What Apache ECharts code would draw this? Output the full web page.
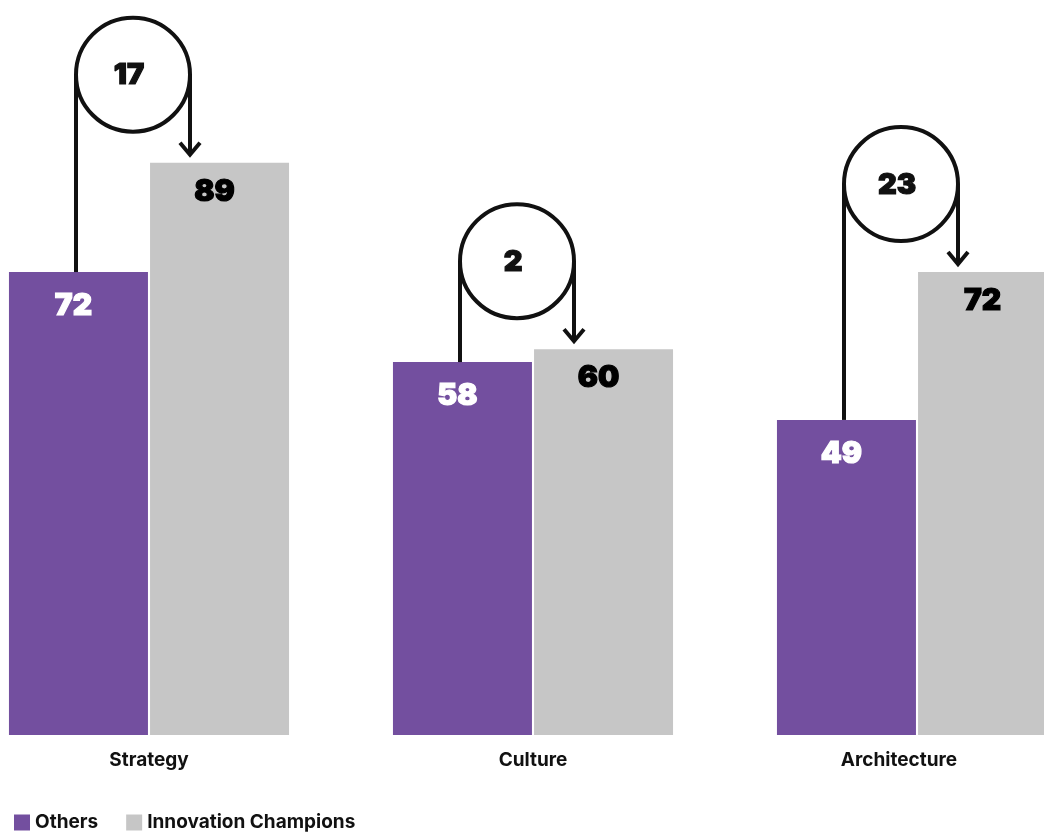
<!DOCTYPE html>
<html>
<head>
<meta charset="utf-8">
<script src="https://cdn.jsdelivr.net/npm/echarts@6/dist/echarts.min.js"></script>
<style>
  html, body { margin: 0; padding: 0; background: #fff; overflow: hidden; }
  body { width: 1044px; height: 832px; position: relative; }
  #chart { position: absolute; left: -43px; top: 0; width: 1152px; height: 832px; }
</style>
</head>
<body>
<div id="chart"></div>
<script>
var categories = ['Strategy', 'Culture', 'Architecture'];
var othersValues = [72, 58, 49];
var championValues = [89, 60, 72];
var gapValues = [17, 2, 23];

var numFont = 'Inter';
var ink = '#111111';

// circle with the gap number, line up from "Others", arrow down to "Champions"
var renderGap = function(params, api) {
  var idx = api.value(0);
  var top = api.coord([idx, api.value(2)]);
  var base = api.coord([idx, api.value(1)]);
  var r = 57;
  var cx = top[0] - 16;
  var cy = top[1] - 88;
  var lx = cx - r, rx = cx + r;
  var tipY = top[1] - 8;
  var lineStyle = { stroke: ink, lineWidth: 4, fill: null };
  return {
    type: 'group',
    children: [
      { type: 'circle', shape: { cx: cx, cy: cy, r: r }, style: { stroke: ink, lineWidth: 4, fill: 'none' } },
      { type: 'line', shape: { x1: lx, y1: cy, x2: lx, y2: base[1] }, style: lineStyle },
      { type: 'line', shape: { x1: rx, y1: cy, x2: rx, y2: tipY - 1 }, style: lineStyle },
      { type: 'polyline', shape: { points: [[rx - 10, tipY - 12], [rx, tipY], [rx + 10, tipY - 12]] }, style: lineStyle },
      { type: 'text', style: {
          text: String(api.value(3)), x: cx - 4, y: cy + 1,
          align: 'center', verticalAlign: 'middle',
          fontFamily: numFont, fontWeight: 900, fontSize: 29, fill: ink,
          stroke: ink, lineWidth: 1.2 } }
    ]
  };
};

var chart = echarts.init(document.getElementById('chart'));

var gapData = categories.map(function(c, i) {
  return [i, othersValues[i], championValues[i], gapValues[i]];
});

chart.setOption({
  animation: false,
  grid: { left: 0, right: 0, top: 92, bottom: 97, containLabel: false },
  legend: {
    left: 57, top: 813, padding: 0,
    itemWidth: 16, itemHeight: 16, itemGap: 28,
    icon: 'rect',
    textStyle: { fontFamily: 'Inter', fontWeight: 700, fontSize: 19, color: '#111' },
    data: ['Others', 'Innovation Champions']
  },
  xAxis: {
    type: 'category',
    data: [
      'Strategy',
      'Culture',
      { value: 'Architecture', textStyle: { padding: [0, 36, 0, 0] } }
    ],
    axisLine: { show: false },
    axisTick: { show: false },
    axisLabel: { margin: 16, fontFamily: 'Inter', fontWeight: 700, fontSize: 19, color: '#111' }
  },
  yAxis: { type: 'value', min: 0, max: 100, show: false, splitLine: { show: false } },
  series: [
    {
      name: 'Others', type: 'bar', data: othersValues,
      barWidth: 139, barGap: '1.5%',
      itemStyle: { color: '#734f9f' },
      label: { show: true, position: 'insideTop', distance: 19, offset: [-5, 0],
        fontFamily: numFont, fontWeight: 900, fontSize: 30, color: '#fff',
        textBorderColor: '#fff', textBorderWidth: 1.2 }
    },
    {
      name: 'Innovation Champions', type: 'bar', data: championValues,
      barWidth: 139,
      itemStyle: { color: '#c6c6c6' },
      label: { show: true, position: 'insideTop', distance: 14, offset: [-5, 0],
        fontFamily: numFont, fontWeight: 900, fontSize: 30, color: '#000',
        textBorderColor: '#000', textBorderWidth: 1.2 }
    },
    {
      type: 'custom', renderItem: renderGap, data: gapData,
      encode: { x: 0, y: 2 }, clip: false, z: 5, silent: true
    }
  ]
});
</script>
</body>
</html>
